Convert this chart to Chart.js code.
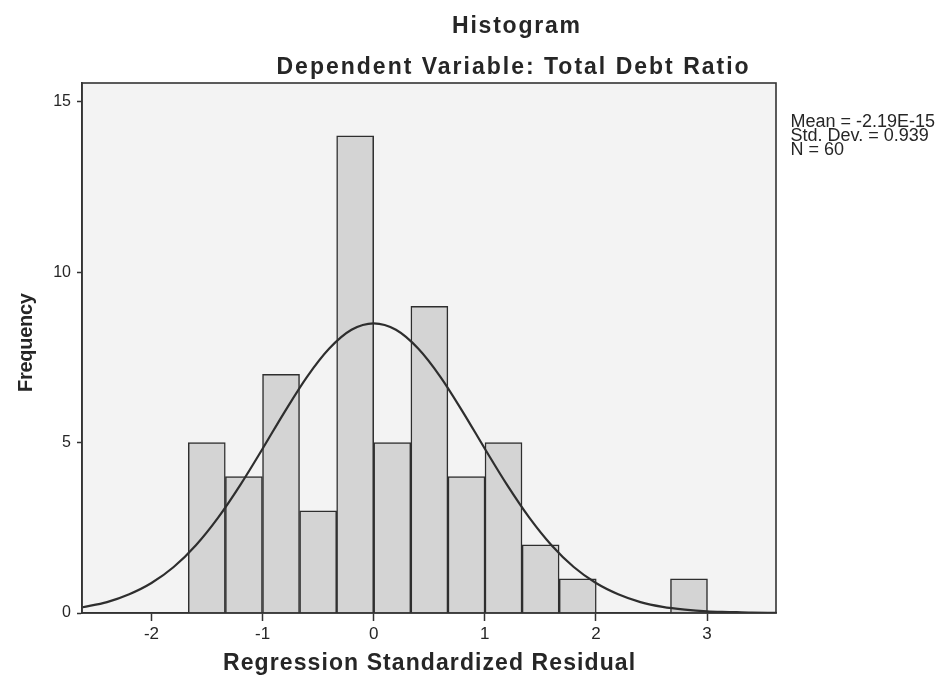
<!DOCTYPE html>
<html><head><meta charset="utf-8">
<script src="https://cdn.jsdelivr.net/npm/chart.js@4.4.1/dist/chart.umd.min.js"></script>
<style>html,body{margin:0;padding:0;background:#fff}#wrap{width:936px;height:678px;position:relative}</style>
</head><body><div id="wrap"><canvas id="c" width="936" height="678"></canvas></div>
<script>
// ---- data ----
const binCenters = [-1.502,-1.168,-0.834,-0.500,-0.167,0.167,0.501,0.835,1.168,1.502,1.836,2.169,2.503,2.837];
const frequencies = [5,4,7,3,14,5,9,4,5,2,1,0,0,1];
const curveX = [-2.62,-2.4,-2.2,-2.0,-1.8,-1.6,-1.4,-1.2,-1.0,-0.8,-0.6,-0.4,-0.2,0,0.2,0.4,0.6,0.8,1.0,1.2,1.4,1.6,1.8,2.0,2.2,2.4,2.6,2.8,3.0,3.2,3.4,3.62];
const curveY = [0.17,0.32,0.55,0.88,1.35,1.99,2.80,3.76,4.82,5.91,6.93,7.76,8.31,8.50,8.31,7.76,6.93,5.91,4.82,3.76,2.80,1.99,1.35,0.88,0.55,0.32,0.18,0.10,0.05,0.03,0.01,0.005];
const xTickValues = [-2,-1,0,1,2,3];
const yTickValues = [0,5,10,15];
const titleText = 'Histogram';
const subtitleText = 'Dependent Variable: Total Debt Ratio';
const xAxisTitle = 'Regression Standardized Residual';
const yAxisTitle = 'Frequency';
const statsLines = ['Mean = -2.19E-15','Std. Dev. = 0.939','N = 60'];

const FONT = '"Liberation Sans", Arial, Helvetica, sans-serif';
const INK = '#262626';

function fitText(ctx, text, cx, by, font, targetW) {
  ctx.save();
  ctx.font = font;
  ctx.textAlign = 'left';
  ctx.textBaseline = 'alphabetic';
  const w0 = ctx.measureText(text).width;
  const sp = (targetW - w0) / Math.max(text.length - 1, 1);
  if ('letterSpacing' in ctx) {
    ctx.letterSpacing = sp.toFixed(2) + 'px';
    ctx.fillText(text, cx - targetW / 2, by);
  } else {
    ctx.translate(cx - targetW / 2, by);
    ctx.scale(targetW / w0, 1);
    ctx.fillText(text, 0, 0);
  }
  ctx.restore();
}

const decor = {
  id: 'decor',
  beforeDraw(chart) {
    const {ctx, chartArea: a} = chart;
    ctx.save();
    ctx.fillStyle = '#f3f3f3';
    ctx.fillRect(a.left, a.top, a.right - a.left, a.bottom - a.top);
    ctx.restore();
  },
  afterDraw(chart) {
    const {ctx, chartArea: a} = chart;
    ctx.save();
    ctx.strokeStyle = '#333333';
    ctx.lineWidth = 1.6;
    ctx.strokeRect(a.left, a.top, a.right - a.left, a.bottom - a.top);
    ctx.fillStyle = INK;
    fitText(ctx, titleText, 516, 33, 'bold 23px ' + FONT, 128);
    fitText(ctx, subtitleText, 512.5, 74, 'bold 23px ' + FONT, 472);
    fitText(ctx, xAxisTitle, 429, 670, 'bold 23px ' + FONT, 412);
    ctx.save();
    ctx.translate(32, 342.5);
    ctx.rotate(-Math.PI / 2);
    fitText(ctx, yAxisTitle, 0, 0, 'bold 20px ' + FONT, 99);
    ctx.restore();
    ctx.font = '18px ' + FONT;
    ctx.textAlign = 'left';
    statsLines.forEach((s, i) => ctx.fillText(s, 790.5, 126.5 + i * 14));
    ctx.restore();
  }
};

new Chart(document.getElementById('c'), {
  type: 'bar',
  data: {
    datasets: [
      {
        type: 'line',
        order: 0,
        data: curveX.map((x, i) => ({x: x, y: curveY[i]})),
        borderColor: '#2e2e2e',
        borderWidth: 2.2,
        pointRadius: 0,
        fill: false,
        cubicInterpolationMode: 'monotone'
      },
      {
        type: 'bar',
        order: 1,
        data: binCenters.map((x, i) => ({x: x, y: frequencies[i] === 0 ? null : frequencies[i]})),
        backgroundColor: '#d4d4d4',
        borderColor: '#2e2e2e',
        borderWidth: 1.5,
        borderSkipped: 'start',
        barPercentage: 1,
        categoryPercentage: 1,
        grouped: false
      }
    ]
  },
  options: {
    responsive: false,
    animation: false,
    devicePixelRatio: 1,
    layout: {padding: {top: 83, right: 160, left: 0, bottom: 0}},
    plugins: {legend: {display: false}, tooltip: {enabled: false}, title: {display: false}},
    scales: {
      x: {
        type: 'linear',
        offset: false,
        min: -2.625,
        max: 3.62,
        afterBuildTicks: s => { s.ticks = xTickValues.map(v => ({value: v})); },
        afterFit: s => { s.height = 65; },
        grid: {offset: false, drawOnChartArea: false, drawTicks: true, tickLength: 8, tickColor: '#333', tickWidth: 1.5},
        border: {display: true, color: '#333', width: 1.6},
        ticks: {font: {family: FONT, size: 17}, color: INK, padding: 3, maxRotation: 0, autoSkip: false,
                callback: v => String(v)}
      },
      y: {
        type: 'linear',
        min: 0,
        max: 15.55,
        afterBuildTicks: s => { s.ticks = yTickValues.map(v => ({value: v})); },
        afterFit: s => { s.width = 82; },
        grid: {drawOnChartArea: false, drawTicks: true, tickLength: 5, tickColor: '#333', tickWidth: 1.5},
        border: {display: true, color: '#333', width: 1.6},
        ticks: {font: {family: FONT, size: 16}, color: INK, padding: 6, autoSkip: false,
                callback: v => String(v)}
      }
    }
  },
  plugins: [decor]
});
</script>
</body></html>
